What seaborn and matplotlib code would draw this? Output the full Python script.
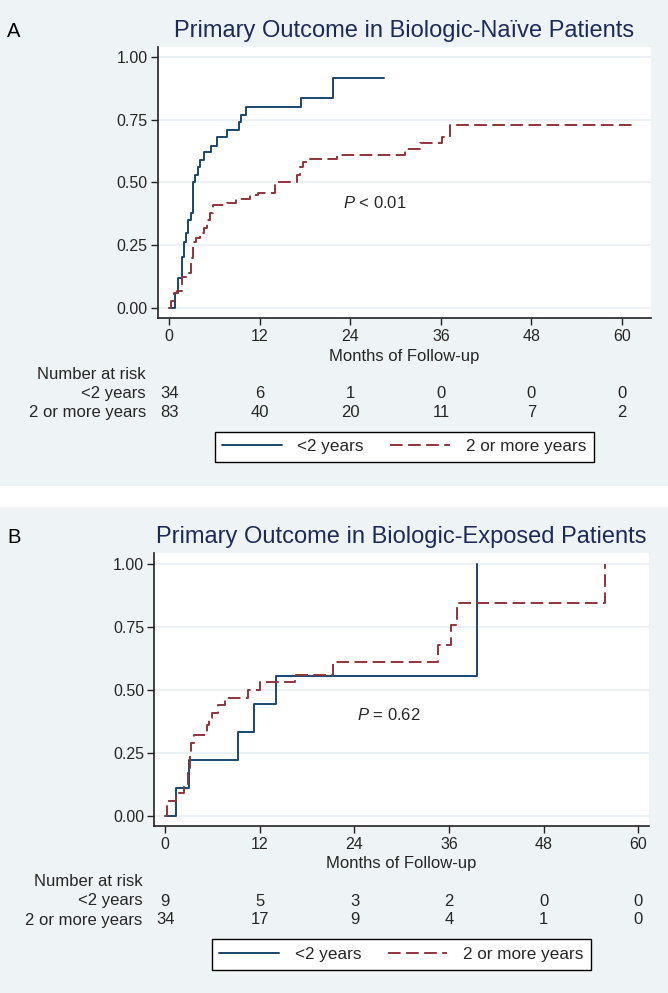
import numpy as np
import pandas as pd
import matplotlib
matplotlib.use("Agg")
import matplotlib.pyplot as plt
import matplotlib.transforms as mtransforms
from matplotlib.patches import Rectangle
from matplotlib.lines import Line2D
import seaborn as sns

# ---- data ----
# Panel A (biologic-naive)
a_short_t = [0, 0.8, 1.2, 1.65, 1.95, 2.2, 2.5, 2.85, 3.2, 3.4, 3.85, 4.1, 4.65, 5.5, 6.3, 7.6,
             9.25, 9.5, 10.2, 17.4, 21.7, 28.4]
a_short_v = [0, 0.06, 0.12, 0.205, 0.265, 0.30, 0.35, 0.38, 0.50, 0.53, 0.56, 0.59, 0.62, 0.645,
             0.68, 0.71, 0.74, 0.77, 0.80, 0.835, 0.917, 0.917]
a_long_t = [0, 0.3, 0.6, 1.0, 1.65, 2.3, 2.9, 3.2, 3.6, 4.1, 4.6, 5.0, 5.4, 5.85, 7.6, 8.9, 10.7,
            11.8, 14.0, 16.9, 17.3, 17.7, 18.2, 22.2, 31.2, 33.2, 36.1, 37.2, 61.9]
a_long_v = [0, 0.03, 0.06, 0.07, 0.126, 0.14, 0.20, 0.265, 0.28, 0.298, 0.32, 0.351, 0.38, 0.41,
            0.417, 0.433, 0.45, 0.46, 0.50, 0.53, 0.56, 0.58, 0.593, 0.609, 0.632, 0.656, 0.682,
            0.729, 0.729]
# Panel B (biologic-exposed)
b_short_t = [0, 1.4, 3.06, 9.27, 11.3, 14.05, 39.5]
b_short_v = [0, 0.111, 0.222, 0.333, 0.444, 0.556, 1.0]
b_long_t = [0, 0.2, 1.4, 2.4, 2.9, 3.1, 3.3, 3.6, 5.3, 5.6, 5.9, 6.7, 7.6, 10.5, 12.0, 16.5,
            21.3, 34.6, 36.2, 37.0, 55.8]
b_long_v = [0, 0.06, 0.09, 0.12, 0.18, 0.24, 0.29, 0.32, 0.36, 0.39, 0.41, 0.44, 0.47, 0.50,
            0.53, 0.56, 0.61, 0.68, 0.76, 0.845, 1.0]

risk_times = [0, 12, 24, 36, 48, 60]
a_risk_short = [34, 6, 1, 0, 0, 0]
a_risk_long = [83, 40, 20, 11, 7, 2]
b_risk_short = [9, 5, 3, 2, 0, 0]
b_risk_long = [34, 17, 9, 4, 1, 0]

groups = ["<2 years", "2 or more years"]
titles = ["Primary Outcome in Biologic-Naïve Patients",
          "Primary Outcome in Biologic-Exposed Patients"]
pvals = [r"$P$ < 0.01", r"$P$ = 0.62"]

sns.set_theme(style="white")
plt.rcParams["font.family"] = ["Liberation Sans", "DejaVu Sans"]
plt.rcParams["mathtext.fontset"] = "custom"
plt.rcParams["mathtext.rm"] = "Liberation Sans"
plt.rcParams["mathtext.it"] = "Liberation Sans:italic"

BG = "#eef3f6"
NAVY = "#1a476f"
MAROON = "#90353b"
TITLE = "#1c2a5a"
DASH = (0, (6.5, 2.8))
FS = 12

W, H = 668, 993
fig = plt.figure(figsize=(W / 100, H / 100), dpi=100)
fig.patch.set_facecolor("white")
# panel backgrounds (pixel rows 0-486 and 507-993)
fig.patches.append(Rectangle((0, 1 - 486 / H), 1, 486 / H, transform=fig.transFigure,
                             facecolor=BG, edgecolor="none", zorder=-10))
fig.patches.append(Rectangle((0, 0), 1, (H - 507) / H, transform=fig.transFigure,
                             facecolor=BG, edgecolor="none", zorder=-10))

panels = [
    dict(box=(157.5, 46.7, 650.7, 318.3), xlim=(-1.55, 63.8), ylim=(-0.04, 1.04),
         st=a_short_t, sv=a_short_v, lt=a_long_t, lv=a_long_v,
         rs=a_risk_short, rl=a_risk_long, letter="A", title_base=36.7, ptxt=(27.3, 0.417)),
    dict(box=(154.0, 553.3, 648.5, 826.0), xlim=(-1.43, 61.3), ylim=(-0.041, 1.044),
         st=b_short_t, sv=b_short_v, lt=b_long_t, lv=b_long_v,
         rs=b_risk_short, rl=b_risk_long, letter="B", title_base=543.3, ptxt=(28.3, 0.40)),
]

for i, p in enumerate(panels):
    x0, y0, x1, y1 = p["box"]
    ax = fig.add_axes([x0 / W, 1 - y1 / H, (x1 - x0) / W, (y1 - y0) / H])
    ax.set_facecolor("white")

    df_s = pd.DataFrame({"t": p["st"], "v": p["sv"]})
    df_l = pd.DataFrame({"t": p["lt"], "v": p["lv"]})
    sns.lineplot(data=df_s, x="t", y="v", ax=ax, color=NAVY, lw=1.4,
                 drawstyle="steps-post", estimator=None, zorder=3)
    sns.lineplot(data=df_l, x="t", y="v", ax=ax, color=MAROON, lw=1.4,
                 drawstyle="steps-post", estimator=None, linestyle=DASH, zorder=3)

    ax.set_xlim(*p["xlim"])
    ax.set_ylim(*p["ylim"])
    ax.set_xticks(risk_times)
    ax.set_yticks([0, 0.25, 0.5, 0.75, 1.0])
    ax.set_yticklabels(["0.00", "0.25", "0.50", "0.75", "1.00"])
    ax.yaxis.grid(True, color="#e8eff4", lw=1.2)
    ax.set_axisbelow(True)
    for s in ["top", "right"]:
        ax.spines[s].set_visible(False)
    for s in ["left", "bottom"]:
        ax.spines[s].set_color("#222222")
        ax.spines[s].set_linewidth(1.2)
    ax.tick_params(axis="both", direction="out", length=5, width=1, color="#222222",
                   labelsize=11.5, pad=2, left=True, bottom=True)
    ax.tick_params(axis="x", pad=3)
    ax.set_xlabel("Months of Follow-up", fontsize=FS, labelpad=3)
    ax.set_ylabel("")

    # title and panel letter
    cx = (x0 + x1) / 2 / W
    fig.text(cx, 1 - p["title_base"] / H, titles[i], ha="center", va="baseline",
             fontsize=17, color=TITLE)
    fig.text(7 / W, 1 - p["title_base"] / H, p["letter"], ha="left", va="baseline",
             fontsize=14.5, color="black")

    ax.text(p["ptxt"][0], p["ptxt"][1], pvals[i], ha="center", va="center", fontsize=FS)

    # number at risk table
    tr = mtransforms.blended_transform_factory(ax.transData, fig.transFigure)
    lab_x = (x0 - 11.5) / W
    fig.text(lab_x, 1 - (y1 + 56) / H, "Number at risk", ha="right", va="center", fontsize=FS)
    fig.text(lab_x, 1 - (y1 + 75) / H, groups[0], ha="right", va="center", fontsize=FS)
    fig.text(lab_x, 1 - (y1 + 94) / H, groups[1], ha="right", va="center", fontsize=FS)
    for t, n1, n2 in zip(risk_times, p["rs"], p["rl"]):
        ax.text(t, 1 - (y1 + 75) / H, str(n1), transform=tr, ha="center", va="center",
                fontsize=FS)
        ax.text(t, 1 - (y1 + 94) / H, str(n2), transform=tr, ha="center", va="center",
                fontsize=FS)

    # legend below
    handles = [Line2D([], [], color=NAVY, lw=1.4),
               Line2D([], [], color=MAROON, lw=1.4, linestyle=DASH)]
    leg = fig.legend(handles, groups, loc="center", ncol=2,
                     bbox_to_anchor=(cx, 1 - (y1 + 128.5) / H), fontsize=12.3,
                     frameon=True, fancybox=False, framealpha=1, edgecolor="black",
                     handlelength=3.5, handletextpad=0.9, columnspacing=1.55,
                     borderpad=0.45)
    leg.get_frame().set_linewidth(1.0)

fig.savefig("out.png", dpi=100)
